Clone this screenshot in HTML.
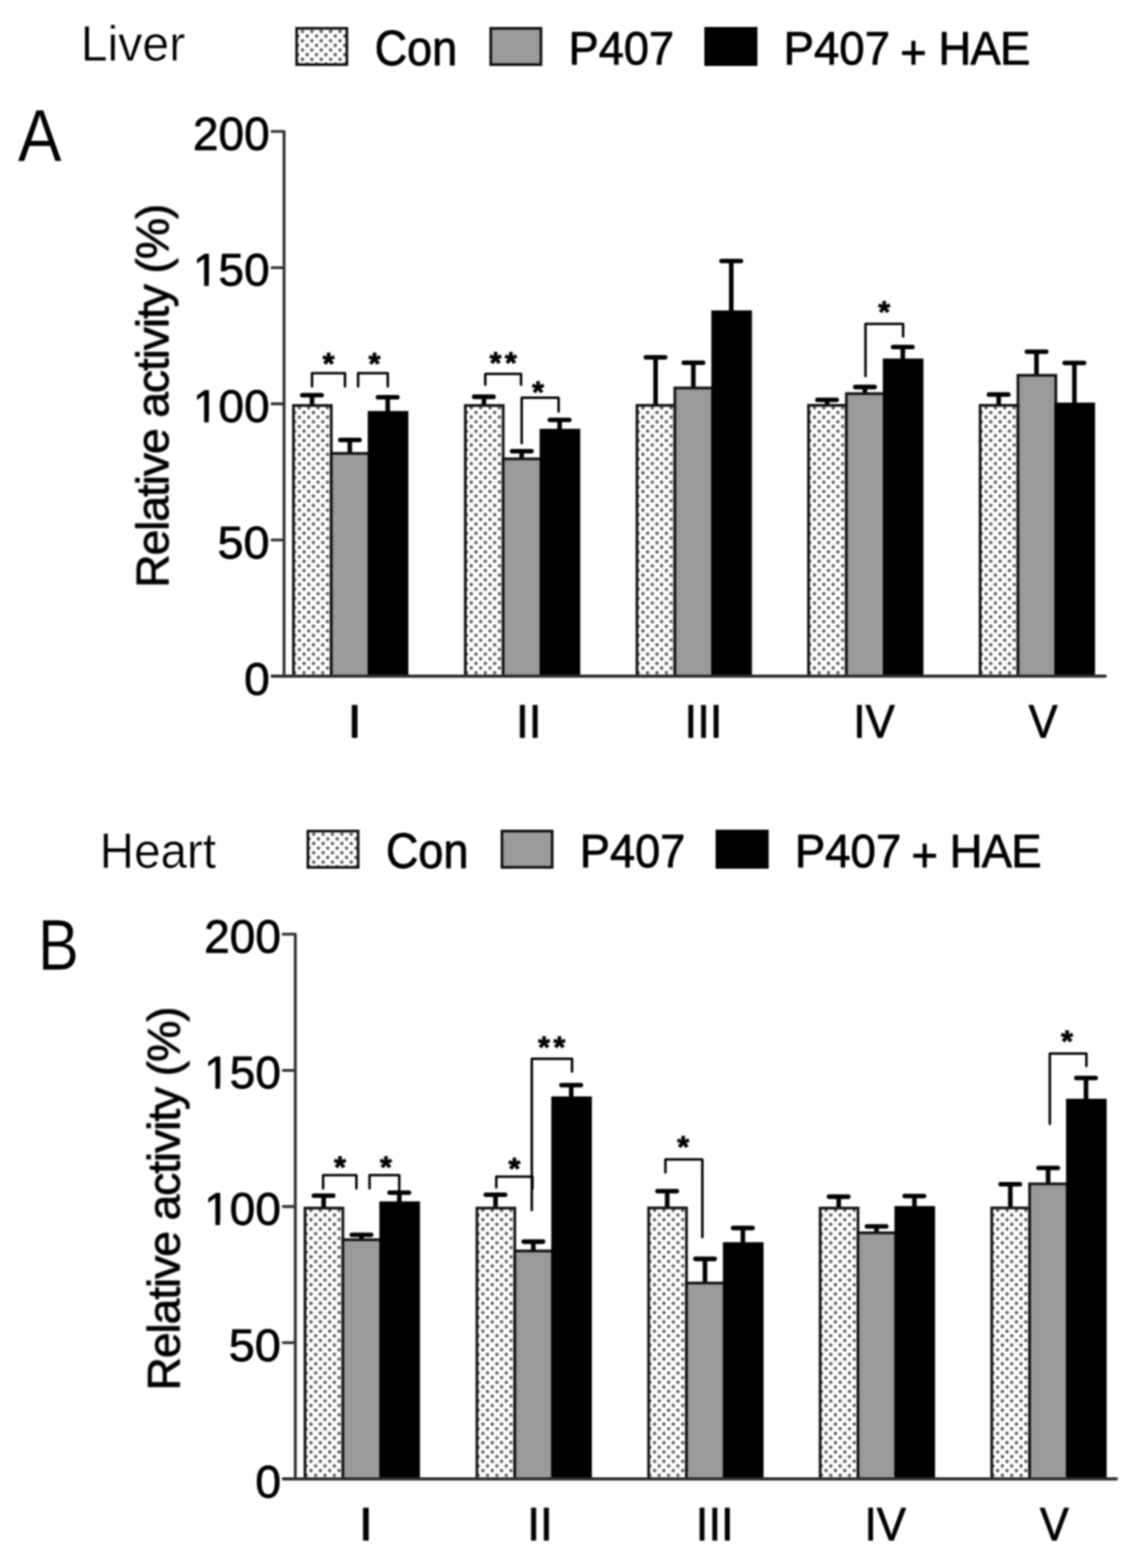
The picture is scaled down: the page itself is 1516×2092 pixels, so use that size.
<!DOCTYPE html>
<html lang="en">
<head>
<meta charset="utf-8">
<title>Relative activity of respiratory complexes I-V in liver and heart</title>
<style>
html,body{margin:0;padding:0;background:#fff;}
body{width:1516px;height:2092px;overflow:hidden;}
svg{display:block;}
text{font-family:"Liberation Sans",sans-serif;font-size:100px;fill:#000;}
.t{stroke:#000;stroke-linejoin:round;}
.w{stroke:#fff;stroke-linejoin:round;}
.st{font-size:41px;font-weight:bold;stroke:#000;stroke-width:0.9px;}
pattern circle{fill:#585858;}
.lg{stroke:#111;stroke-width:3.6px;}
.bar{stroke:#141414;stroke-width:3.7px;}
.k{stroke:#000;}
.ax{fill:none;stroke:#333;stroke-width:3.9px;stroke-linejoin:round;stroke-linecap:round;}
.x{stroke-width:4.1px;stroke:#2e2e2e;}
.eb{fill:none;stroke:#000;stroke-width:6.1px;stroke-linecap:round;}
.br{fill:none;stroke:#000;stroke-width:3.3px;stroke-linecap:round;stroke-linejoin:round;}
</style>
</head>
<body>
<svg width="1516" height="2092" viewBox="0 0 1516 2092" role="img" aria-label="Bar charts of relative activity (%) of complexes I to V in liver (A) and heart (B) for Con, P407 and P407 + HAE groups">
<defs>
<pattern id="dotsA" patternUnits="userSpaceOnUse" x="7.9" y="544.2" width="12.5" height="12.4"><rect width="12.5" height="12.4" fill="#fff"/><circle cx="6.25" cy="6.2" r="2.3"/><circle cx="0" cy="0" r="2.3"/><circle cx="12.5" cy="0" r="2.3"/><circle cx="0" cy="12.4" r="2.3"/><circle cx="12.5" cy="12.4" r="2.3"/></pattern>
<pattern id="dotsB" patternUnits="userSpaceOnUse" x="7.9" y="543.9" width="12.5" height="12.4"><rect width="12.5" height="12.4" fill="#fff"/><circle cx="6.25" cy="6.2" r="2.3"/><circle cx="0" cy="0" r="2.3"/><circle cx="12.5" cy="0" r="2.3"/><circle cx="0" cy="12.4" r="2.3"/><circle cx="12.5" cy="12.4" r="2.3"/></pattern>
<pattern id="dotsL" patternUnits="userSpaceOnUse" x="397.45" y="48.2" width="12.5" height="12.4"><rect width="12.5" height="12.4" fill="#fff"/><circle cx="6.25" cy="6.2" r="2.3"/><circle cx="0" cy="0" r="2.3"/><circle cx="12.5" cy="0" r="2.3"/><circle cx="0" cy="12.4" r="2.3"/><circle cx="12.5" cy="12.4" r="2.3"/></pattern>
<filter id="soft" x="0" y="0" width="1516" height="2092" filterUnits="userSpaceOnUse" color-interpolation-filters="sRGB"><feGaussianBlur stdDeviation="1.1"/></filter>
</defs>
<rect width="1516" height="2092" fill="#fff"/>
<g filter="url(#soft)">
<g transform="translate(0,0)">
<text transform="translate(107.70,81.45) scale(0.6435,0.6642)" class="w" stroke-width="0.92">Liver</text>
<text transform="translate(23.71,215.15) scale(0.8773,0.9781)" class="w" stroke-width="0.43">A</text>
<rect x="395.9" y="37.8" width="67" height="48.4" fill="url(#dotsL)" class="lg"/>
<text transform="translate(499.95,86.79) scale(0.6000,0.6592)" class="t" stroke-width="1.59">Con</text>
<rect x="654.9" y="37.8" width="67" height="48.4" fill="#9a9a98" class="lg"/>
<text transform="translate(758.72,86.11) scale(0.6032,0.6366)" class="t" stroke-width="1.61">P407</text>
<rect x="941.8" y="37.8" width="67.2" height="48.4" fill="#000" class="lg k"/>
<text transform="translate(1045.79,86.11) scale(0.6077,0.6366)" class="t" stroke-width="1.61"><tspan x="0">P407 </tspan><tspan x="255.9" dy="8.8">+ </tspan><tspan x="339.8" dy="-8.8" letter-spacing="-1.7">HAE</tspan></text>
<text transform="translate(224.85,784.31) rotate(-90) scale(0.6200,0.6150)" class="t" stroke-width="1.62" letter-spacing="-2.56">Relative activity (%)</text>
<path d="M363 175.4H379.1V902.1M363 357.1H379.1M363 538.7H379.1M363 720.4H379.1" class="ax"/>
<text transform="translate(257.38,200.12) scale(0.6139,0.6268)" class="t" stroke-width="1.61">200</text>
<text transform="translate(257.50,380.83) scale(0.6132,0.6183)" class="t" stroke-width="1.62">150</text>
<path transform="translate(257.50,380.83) scale(0.6132,0.6183)" d="M4 -8.7H24.3V2H4ZM34.4 -8.7H54V2H34.4Z" fill="#fff"/>
<text transform="translate(257.50,563.13) scale(0.6132,0.6169)" class="t" stroke-width="1.63">100</text>
<path transform="translate(257.50,563.13) scale(0.6132,0.6169)" d="M4 -8.7H24.3V2H4ZM34.4 -8.7H54V2H34.4Z" fill="#fff"/>
<text transform="translate(290.35,744.74) scale(0.6242,0.6141)" class="t" stroke-width="1.62">50</text>
<text transform="translate(325.68,926.73) scale(0.6168,0.6183)" class="t" stroke-width="1.62">0</text>
<text transform="translate(463.40,983.95) scale(0.7053,0.6350)" class="t" stroke-width="1.49">I</text>
<text transform="translate(688.38,983.95) scale(0.6187,0.6350)" class="t" stroke-width="1.60">II</text>
<text transform="translate(913.61,983.95) scale(0.6046,0.6350)" class="t" stroke-width="1.61">III</text>
<text transform="translate(1138.78,983.95) scale(0.5859,0.6350)" class="t" stroke-width="1.64">IV</text>
<text transform="translate(1372.76,983.95) scale(0.5786,0.6350)" class="t" stroke-width="1.65">V</text>
<g transform="translate(391.6,0)">
<path d="M24.8 541.8V527.3M11.8 527.3H37.6" class="eb"/>
<rect x="0.0" y="541.0" width="50.5" height="361.1" fill="url(#dotsA)" class="bar"/>
<path d="M75.2 605.7V587.0M62.4 587.0H88.2" class="eb"/>
<rect x="50.5" y="604.9" width="50.5" height="297.2" fill="#9a9a98" class="bar"/>
<path d="M125.8 551.0V530.0M112.8 530.0H138.7" class="eb"/>
<rect x="101.0" y="550.2" width="50.5" height="351.9" fill="#000" class="bar k"/>
</g>
<g transform="translate(621.0,0)">
<path d="M24.8 541.8V529.4M11.8 529.4H37.6" class="eb"/>
<rect x="0.0" y="541.0" width="50.5" height="361.1" fill="url(#dotsA)" class="bar"/>
<path d="M75.2 613.0V602.0M62.4 602.0H88.2" class="eb"/>
<rect x="50.5" y="612.2" width="50.5" height="289.9" fill="#9a9a98" class="bar"/>
<path d="M125.8 574.8V560.2M112.8 560.2H138.7" class="eb"/>
<rect x="101.0" y="574.0" width="50.5" height="328.1" fill="#000" class="bar k"/>
</g>
<g transform="translate(850.1,0)">
<path d="M24.8 541.6V476.8M11.8 476.8H37.6" class="eb"/>
<rect x="0.0" y="540.8" width="50.5" height="361.3" fill="url(#dotsA)" class="bar"/>
<path d="M75.2 518.4V484.0M62.4 484.0H88.2" class="eb"/>
<rect x="50.5" y="517.6" width="50.5" height="384.5" fill="#9a9a98" class="bar"/>
<path d="M125.8 416.8V348.3M112.8 348.3H138.7" class="eb"/>
<rect x="101.0" y="416.0" width="50.5" height="486.1" fill="#000" class="bar k"/>
</g>
<g transform="translate(1079.0,0)">
<path d="M24.8 541.6V533.5M11.8 533.5H37.6" class="eb"/>
<rect x="0.0" y="540.8" width="50.5" height="361.3" fill="url(#dotsA)" class="bar"/>
<path d="M75.2 526.0V516.4M62.4 516.4H88.2" class="eb"/>
<rect x="50.5" y="525.2" width="50.5" height="376.9" fill="#9a9a98" class="bar"/>
<path d="M125.8 481.0V463.0M112.8 463.0H138.7" class="eb"/>
<rect x="101.0" y="480.2" width="50.5" height="421.9" fill="#000" class="bar k"/>
</g>
<g transform="translate(1308.0,0)">
<path d="M24.8 541.6V526.4M11.8 526.4H37.6" class="eb"/>
<rect x="0.0" y="540.8" width="50.5" height="361.3" fill="url(#dotsA)" class="bar"/>
<path d="M75.2 501.5V469.2M62.4 469.2H88.2" class="eb"/>
<rect x="50.5" y="500.7" width="50.5" height="401.4" fill="#9a9a98" class="bar"/>
<path d="M125.8 539.8V484.2M112.8 484.2H138.7" class="eb"/>
<rect x="101.0" y="539.0" width="50.5" height="363.1" fill="#000" class="bar k"/>
</g>
<path d="M363 902.1H1475" class="ax x"/>
<path d="M416.4 515.6V497.8H460.4V515.6" class="br"/>
<path d="M477.9 515.6V497.8H517.5V515.6" class="br"/>
<path d="M647.6 513.3V498.8H695.3V513.3" class="br"/>
<path d="M696.2 591.3V530.7H745.5V549.0" class="br"/>
<path d="M1155.0 501.8V432.2H1205.2V449.0" class="br"/>
<text x="430.4" y="499.3" class="st">*</text>
<text x="491.8" y="499.3" class="st">*</text>
<text x="653.2" y="497.6" class="st" letter-spacing="4.6">**</text>
<text x="709.9" y="537.4" class="st">*</text>
<text x="1172.0" y="430.0" class="st">*</text>
</g>
<g transform="translate(15,1071)">
<text transform="translate(117.96,86.75) scale(0.6360,0.6745)" class="w" stroke-width="0.92">Heart</text>
<text transform="translate(35.57,222.75) scale(0.8224,0.9693)" class="w" stroke-width="0.45">B</text>
<rect x="395.9" y="37.8" width="67" height="48.4" fill="url(#dotsL)" class="lg"/>
<text transform="translate(499.95,86.79) scale(0.6000,0.6592)" class="t" stroke-width="1.59">Con</text>
<rect x="654.9" y="37.8" width="67" height="48.4" fill="#9a9a98" class="lg"/>
<text transform="translate(758.72,86.11) scale(0.6032,0.6366)" class="t" stroke-width="1.61">P407</text>
<rect x="941.8" y="37.8" width="67.2" height="48.4" fill="#000" class="lg k"/>
<text transform="translate(1045.79,86.11) scale(0.6077,0.6366)" class="t" stroke-width="1.61"><tspan x="0">P407 </tspan><tspan x="255.9" dy="8.8">+ </tspan><tspan x="339.8" dy="-8.8" letter-spacing="-1.7">HAE</tspan></text>
<text transform="translate(224.85,784.31) rotate(-90) scale(0.6200,0.6150)" class="t" stroke-width="1.62" letter-spacing="-2.56">Relative activity (%)</text>
<path d="M363 175.4H379.1V902.1M363 357.1H379.1M363 538.7H379.1M363 720.4H379.1" class="ax"/>
<text transform="translate(257.38,200.12) scale(0.6139,0.6268)" class="t" stroke-width="1.61">200</text>
<text transform="translate(257.50,380.83) scale(0.6132,0.6183)" class="t" stroke-width="1.62">150</text>
<path transform="translate(257.50,380.83) scale(0.6132,0.6183)" d="M4 -8.7H24.3V2H4ZM34.4 -8.7H54V2H34.4Z" fill="#fff"/>
<text transform="translate(257.50,563.13) scale(0.6132,0.6169)" class="t" stroke-width="1.63">100</text>
<path transform="translate(257.50,563.13) scale(0.6132,0.6169)" d="M4 -8.7H24.3V2H4ZM34.4 -8.7H54V2H34.4Z" fill="#fff"/>
<text transform="translate(290.35,744.74) scale(0.6242,0.6141)" class="t" stroke-width="1.62">50</text>
<text transform="translate(325.68,926.73) scale(0.6168,0.6183)" class="t" stroke-width="1.62">0</text>
<text transform="translate(463.40,983.95) scale(0.7053,0.6350)" class="t" stroke-width="1.49">I</text>
<text transform="translate(688.38,983.95) scale(0.6187,0.6350)" class="t" stroke-width="1.60">II</text>
<text transform="translate(913.61,983.95) scale(0.6046,0.6350)" class="t" stroke-width="1.61">III</text>
<text transform="translate(1138.78,983.95) scale(0.5859,0.6350)" class="t" stroke-width="1.64">IV</text>
<text transform="translate(1372.76,983.95) scale(0.5786,0.6350)" class="t" stroke-width="1.65">V</text>
<g transform="translate(392.1,0)">
<path d="M24.8 541.6V524.3M11.8 524.3H37.6" class="eb"/>
<rect x="0.0" y="540.8" width="50.5" height="361.3" fill="url(#dotsB)" class="bar"/>
<path d="M75.2 583.8V576.5M62.4 576.5H88.2" class="eb"/>
<rect x="50.5" y="583.0" width="50.5" height="319.1" fill="#9a9a98" class="bar"/>
<path d="M125.8 534.5V520.3M112.8 520.3H138.7" class="eb"/>
<rect x="101.0" y="533.7" width="50.5" height="368.4" fill="#000" class="bar k"/>
</g>
<g transform="translate(621.5,0)">
<path d="M24.8 541.6V523.0M11.8 523.0H37.6" class="eb"/>
<rect x="0.0" y="540.8" width="50.5" height="361.3" fill="url(#dotsB)" class="bar"/>
<path d="M75.2 598.8V585.6M62.4 585.6H88.2" class="eb"/>
<rect x="50.5" y="598.0" width="50.5" height="304.1" fill="#9a9a98" class="bar"/>
<path d="M125.8 394.5V376.7M112.8 376.7H138.7" class="eb"/>
<rect x="101.0" y="393.7" width="50.5" height="508.4" fill="#000" class="bar k"/>
</g>
<g transform="translate(850.6,0)">
<path d="M24.8 541.4V518.3M11.8 518.3H37.6" class="eb"/>
<rect x="0.0" y="540.6" width="50.5" height="361.5" fill="url(#dotsB)" class="bar"/>
<path d="M75.2 641.6V608.6M62.4 608.6H88.2" class="eb"/>
<rect x="50.5" y="640.8" width="50.5" height="261.3" fill="#9a9a98" class="bar"/>
<path d="M125.8 589.0V567.4M112.8 567.4H138.7" class="eb"/>
<rect x="101.0" y="588.2" width="50.5" height="313.9" fill="#000" class="bar k"/>
</g>
<g transform="translate(1079.5,0)">
<path d="M24.8 541.6V525.6M11.8 525.6H37.6" class="eb"/>
<rect x="0.0" y="540.8" width="50.5" height="361.3" fill="url(#dotsB)" class="bar"/>
<path d="M75.2 574.6V565.2M62.4 565.2H88.2" class="eb"/>
<rect x="50.5" y="573.8" width="50.5" height="328.3" fill="#9a9a98" class="bar"/>
<path d="M125.8 540.8V524.8M112.8 524.8H138.7" class="eb"/>
<rect x="101.0" y="540.0" width="50.5" height="362.1" fill="#000" class="bar k"/>
</g>
<g transform="translate(1308.5,0)">
<path d="M24.8 541.4V509.0M11.8 509.0H37.6" class="eb"/>
<rect x="0.0" y="540.6" width="50.5" height="361.5" fill="url(#dotsB)" class="bar"/>
<path d="M75.2 509.3V487.2M62.4 487.2H88.2" class="eb"/>
<rect x="50.5" y="508.5" width="50.5" height="393.6" fill="#9a9a98" class="bar"/>
<path d="M125.8 397.6V367.2M112.8 367.2H138.7" class="eb"/>
<rect x="101.0" y="396.8" width="50.5" height="505.3" fill="#000" class="bar k"/>
</g>
<path d="M363 902.1H1475" class="ax x"/>
<path d="M416.2 514.5V496.9H460.6V514.5" class="br"/>
<path d="M478.2 514.5V496.9H517.8V521.0" class="br"/>
<path d="M647.3 513.2V498.8H695.6V515.0" class="br"/>
<path d="M694.7 543.6V341.6H748.4V358.7" class="br"/>
<path d="M873.0 493.3V475.9H922.3V579.6" class="br"/>
<path d="M1386.0 428.6V334.6H1434.8V351.3" class="br"/>
<text x="430.7" y="499.6" class="st">*</text>
<text x="492.1" y="499.6" class="st">*</text>
<text x="663.4" y="501.7" class="st">*</text>
<text x="703.0" y="340.4" class="st" letter-spacing="4.6">**</text>
<text x="888.7" y="473.2" class="st">*</text>
<text x="1401.0" y="332.0" class="st">*</text>
</g>
</g>
</svg>
</body>
</html>
